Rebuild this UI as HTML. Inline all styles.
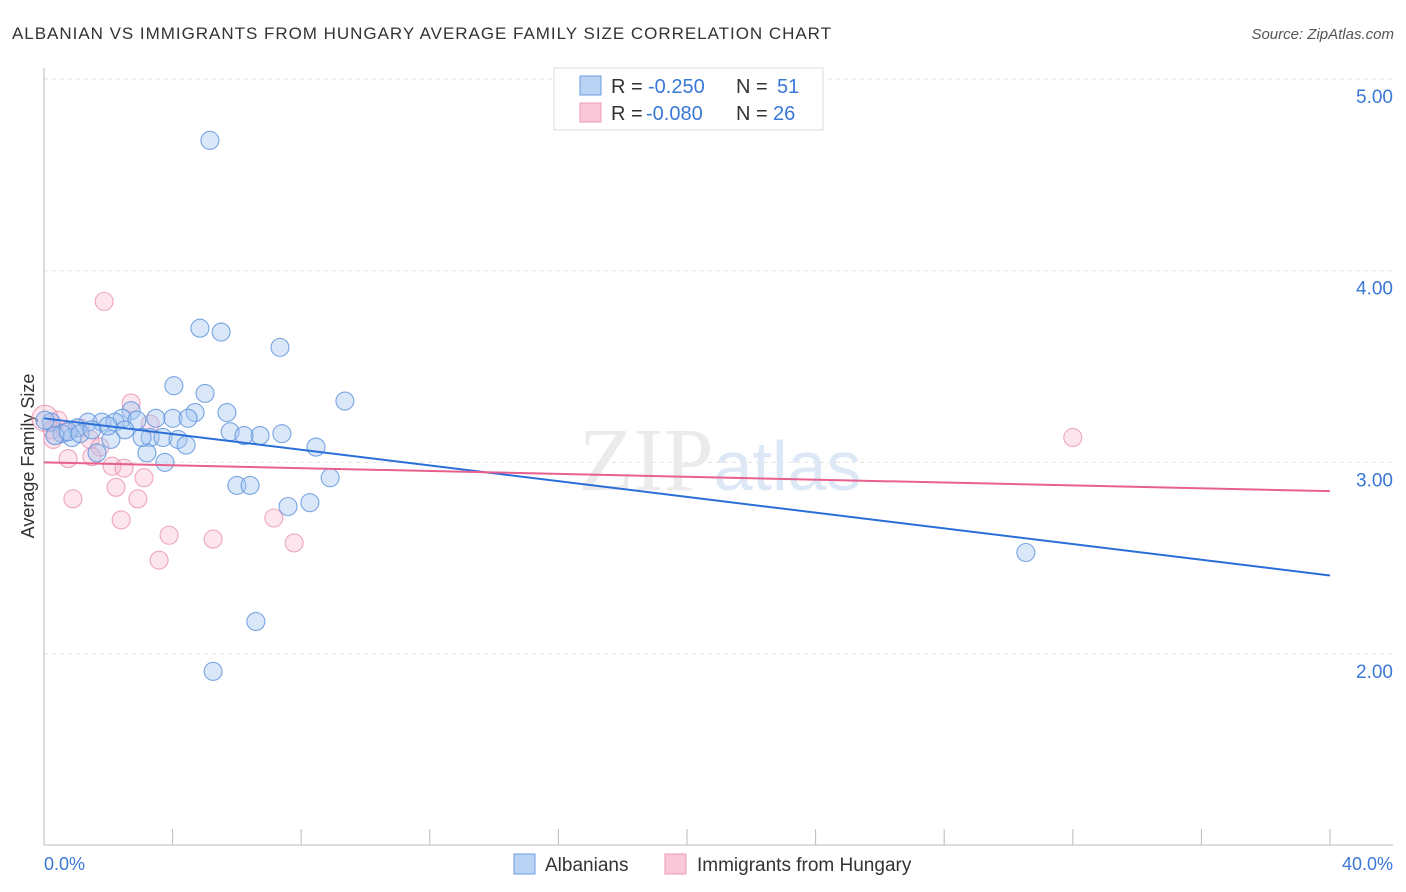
<!DOCTYPE html>
<html><head><meta charset="utf-8"><style>
body{margin:0;background:#fff;font-family:"Liberation Sans",sans-serif;}
svg{display:block}
</style></head><body>
<svg width="1406" height="892">
<text x="12" y="39" font-size="17" fill="#333" textLength="819" lengthAdjust="spacing">ALBANIAN VS IMMIGRANTS FROM HUNGARY AVERAGE FAMILY SIZE CORRELATION CHART</text>
<text x="1394" y="39" font-size="15" fill="#555" font-style="italic" text-anchor="end">Source: ZipAtlas.com</text>
<g id="grid"></g>
<text x="720" y="490" font-size="90" fill="#ebebeb" text-anchor="middle" font-family="Liberation Serif,serif">ZIP<tspan fill="#dde8f6" font-family="Liberation Sans,sans-serif" font-size="70">atlas</tspan></text>
<text x="34" y="456" font-size="18" fill="#333" text-anchor="middle" transform="rotate(-90 34 456)">Average Family Size</text>
<g id="pts"></g>
<g id="lines"></g>
<g>
<rect x="554" y="68" width="269" height="62" fill="#fff" stroke="#ddd"/>
<rect x="580" y="76" width="21" height="19" fill="#b9d3f5" stroke="#6a9ee0"/>
<rect x="580" y="103" width="21" height="19" fill="#f9c8d8" stroke="#ec9ab5"/>
<text x="611" y="93" font-size="20" fill="#333">R =</text>
<text x="648" y="93" font-size="20" fill="#3a78d8">-0.250</text>
<text x="736" y="93" font-size="20" fill="#333">N =</text>
<text x="777" y="93" font-size="20" fill="#3a78d8">51</text>
<text x="611" y="120" font-size="20" fill="#333">R =</text>
<text x="646" y="120" font-size="20" fill="#3a78d8">-0.080</text>
<text x="736" y="120" font-size="20" fill="#333">N =</text>
<text x="773" y="120" font-size="20" fill="#3a78d8">26</text>
</g>
<g>
<rect x="514" y="854" width="21" height="20" fill="#b9d3f5" stroke="#6a9ee0"/>
<text x="545" y="871" font-size="19" fill="#333">Albanians</text>
<rect x="665" y="854" width="21" height="20" fill="#f9c8d8" stroke="#ec9ab5"/>
<text x="697" y="871" font-size="19" fill="#333">Immigrants from Hungary</text>
</g>
<text x="44" y="870" font-size="18" fill="#3a78d8">0.0%</text>
<text x="1393" y="870" font-size="18" fill="#3a78d8" text-anchor="end">40.0%</text>
</svg>
<script>
const yTicks=[5,4,3,2];
const yTickLabels=["5.00","4.00","3.00","2.00"];
const xTicks=[0,4,8,12,16,20,24,28,32,36,40];
const blueX=[5.16,4.85,5.51,7.34,4.04,5.01,9.36,2.71,4.70,5.69,2.43,3.48,4.01,4.48,2.89,1.37,1.80,2.21,1.03,0.22,5.79,7.40,2.52,0.56,0.87,3.30,3.70,4.17,6.72,6.22,2.08,4.42,8.46,1.65,3.20,3.76,8.90,6.00,6.41,8.27,7.59,30.54,6.59,5.26,0.03,0.34,0.75,3.05,1.12,1.99,1.49];
const blueY=[4.68,3.70,3.68,3.60,3.40,3.36,3.32,3.27,3.26,3.26,3.23,3.23,3.23,3.23,3.22,3.21,3.21,3.21,3.18,3.21,3.16,3.15,3.17,3.15,3.13,3.13,3.13,3.12,3.14,3.14,3.12,3.09,3.08,3.05,3.05,3.00,2.92,2.88,2.88,2.79,2.77,2.53,2.17,1.91,3.22,3.14,3.16,3.13,3.15,3.19,3.17];
const pinkX=[1.87,2.71,3.30,0.44,0.03,0.65,1.43,1.74,1.49,0.75,2.12,2.49,3.11,2.24,0.90,2.92,2.40,7.15,3.89,5.26,7.78,3.58,32.0,0.28,1.12,0.25];
const pinkY=[3.84,3.31,3.20,3.22,3.23,3.16,3.12,3.08,3.03,3.02,2.98,2.97,2.92,2.87,2.81,2.81,2.70,2.71,2.62,2.60,2.58,2.49,3.13,3.12,3.18,3.17];
const blueTrend=[3.23,2.41];
const pinkTrend=[3.00,2.85];
const X=v=>44+v/40*1286;
const Y=v=>79+(5-v)*191.7;
const NS="http://www.w3.org/2000/svg";
function mk(t,a,p){const e=document.createElementNS(NS,t);for(const k in a)e.setAttribute(k,a[k]);p.appendChild(e);return e;}
const grid=document.getElementById('grid');
yTicks.forEach((v,i)=>{
 const l=mk('line',{x1:44,x2:1393,y1:Y(v),y2:Y(v),stroke:'#e2e2e2','stroke-dasharray':'4,4'},grid);
 
 
 const t=mk('text',{x:1393,y:Y(v)+24,'font-size':19,fill:'#3a78d8','text-anchor':'end'},grid);
 t.textContent=yTickLabels[i];
 
 
});
const ax=mk('line',{x1:44,x2:44,y1:68,y2:845,stroke:'#bbb'},grid);


const bx=mk('line',{x1:44,x2:1393,y1:845,y2:845,stroke:'#bbb'},grid);


xTicks.forEach(v=>{
 const t=mk('line',{x1:X(v),x2:X(v),y1:829,y2:845,stroke:'#bbb'},grid);
 
 
});
const pts=document.getElementById('pts');
pinkX.forEach((x,i)=>{
 const c=mk('circle',{cx:X(x),cy:Y(pinkY[i]),r:(i==4?13:9),fill:'rgba(246,180,203,0.35)',stroke:'rgba(232,140,172,0.75)','stroke-width':1.1},pts);
 
 
});
blueX.forEach((x,i)=>{
 const c=mk('circle',{cx:X(x),cy:Y(blueY[i]),r:9,fill:'rgba(165,198,240,0.42)',stroke:'rgba(90,145,220,0.8)','stroke-width':1.1},pts);
 
 
});
const lines=document.getElementById('lines');
const bl=mk('line',{x1:X(0),x2:X(40),y1:Y(blueTrend[0]),y2:Y(blueTrend[1]),stroke:'#2a6fd8','stroke-width':2},lines);


const pl=mk('line',{x1:X(0),x2:X(40),y1:Y(pinkTrend[0]),y2:Y(pinkTrend[1]),stroke:'#e8608c','stroke-width':2},lines);


</script>
</body></html>
